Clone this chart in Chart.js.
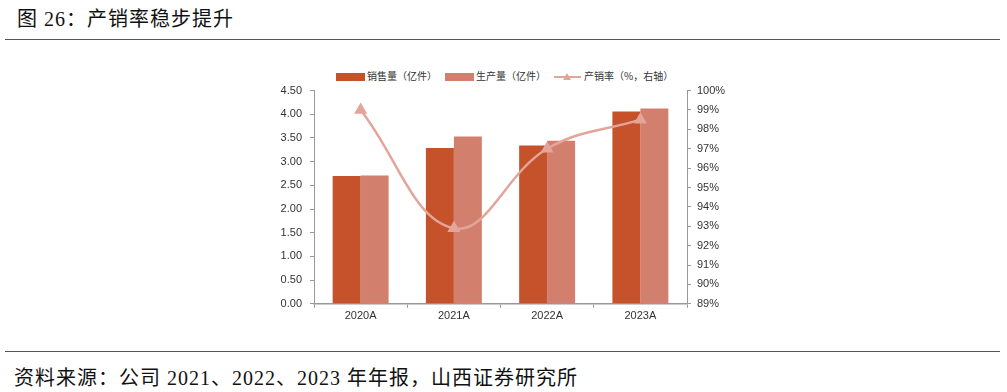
<!DOCTYPE html>
<html>
<head>
<meta charset="utf-8">
<script src="https://cdn.jsdelivr.net/npm/chart.js@4.4.0/dist/chart.umd.min.js"></script>
<style>
  body{margin:0;background:#fff;width:1007px;height:392px;position:relative;overflow:hidden;font-family:"Liberation Sans",Arial,sans-serif;}
  .title{position:absolute;left:17px;top:3px;font-size:20px;letter-spacing:1px;color:#111;font-family:"Liberation Serif","Noto Sans CJK SC",serif;}
  .rule{position:absolute;left:5px;width:995px;height:0;border-top:1.5px solid #555;}
  .src{position:absolute;left:14px;top:362px;font-size:20px;letter-spacing:1px;color:#111;font-family:"Liberation Serif","Noto Sans CJK SC",serif;}
  #legend{position:absolute;left:336px;top:66px;font-size:10px;color:#333;font-family:"Noto Sans CJK SC",sans-serif;white-space:nowrap;}
  #legend span.item{display:inline-block;margin-right:8px;vertical-align:middle;}
  .box{display:inline-block;width:29px;height:8px;vertical-align:middle;margin-right:2px;}
  .ln{display:inline-block;position:relative;width:27px;height:10px;vertical-align:middle;margin-right:3px;}
  .ln:before{content:"";position:absolute;left:0;right:0;top:4px;border-top:2px solid #E3A599;}
  .ln:after{content:"";position:absolute;left:9px;top:1px;border-left:4px solid transparent;border-right:4px solid transparent;border-bottom:7px solid #E3A599;}
  #wrap{position:absolute;left:250px;top:76px;width:490px;height:249px;}
</style>
</head>
<body>
<div class="title">图 26：产销率稳步提升</div>
<div class="rule" style="top:39px"></div>
<div id="legend"></div>
<div id="wrap"><canvas id="c"></canvas></div>
<div class="rule" style="top:351px"></div>
<div class="src">资料来源：公司 2021、2022、2023 年年报，山西证券研究所</div>
<script>
const years = ['2020A', '2021A', '2022A', '2023A'];
const salesVol = [2.70, 3.29, 3.34, 4.06];      // 销售量（亿件）
const prodVol = [2.71, 3.53, 3.44, 4.12];       // 生产量（亿件）
const sellRate = [99.0, 92.9, 97.0, 98.5];      // 产销率（%）

const names = ['销售量（亿件）', '生产量（亿件）', '产销率（%，右轴）'];
const colors = ['#C5522B', '#D27F6E', '#E3A599'];

// legend
const lg = document.getElementById('legend');
lg.innerHTML =
  `<span class="item"><span class="box" style="background:${colors[0]}"></span>${names[0]}</span>` +
  `<span class="item"><span class="box" style="background:${colors[1]}"></span>${names[1]}</span>` +
  `<span class="item"><span class="ln"></span>${names[2]}</span>`;

const tickFont = {family: '"Liberation Sans", Arial, sans-serif', size: 11};

new Chart(document.getElementById('c'), {
  data: {
    labels: years,
    datasets: [
      {type: 'line', label: names[2], data: sellRate, yAxisID: 'y2',
       borderColor: colors[2], backgroundColor: colors[2], borderWidth: 2.5,
       tension: 0.4, pointStyle: 'triangle', pointRadius: 5, pointHoverRadius: 5, order: 0},
      {type: 'bar', label: names[0], data: salesVol, yAxisID: 'y',
       backgroundColor: colors[0], categoryPercentage: 0.6, barPercentage: 1, order: 1},
      {type: 'bar', label: names[1], data: prodVol, yAxisID: 'y',
       backgroundColor: colors[1], categoryPercentage: 0.6, barPercentage: 1, order: 1}
    ]
  },
  options: {
    responsive: true,
    maintainAspectRatio: false,
    animation: false,
    plugins: {legend: {display: false}, tooltip: {enabled: false}},
    scales: {
      x: {
        grid: {display: true, drawOnChartArea: false, tickLength: 4, color: '#999', offset: true},
        border: {color: '#999', width: 1.5},
        ticks: {color: '#333', font: tickFont, padding: 2}
      },
      y: {
        position: 'left', min: 0, max: 4.5,
        afterFit: s => { s.width = 64; },
        grid: {drawOnChartArea: false, tickLength: 4, color: '#999'},
        border: {color: '#999', width: 1},
        ticks: {stepSize: 0.5, color: '#333', font: tickFont, padding: 8,
                callback: v => Number(v).toFixed(2)}
      },
      y2: {
        position: 'right', min: 89, max: 100,
        afterFit: s => { s.width = 53; },
        grid: {drawOnChartArea: false, tickLength: 4, color: '#999'},
        border: {color: '#999', width: 1},
        ticks: {stepSize: 1, color: '#333', font: tickFont, padding: 6,
                callback: v => v + '%'}
      }
    }
  }
});
</script>
</body>
</html>
